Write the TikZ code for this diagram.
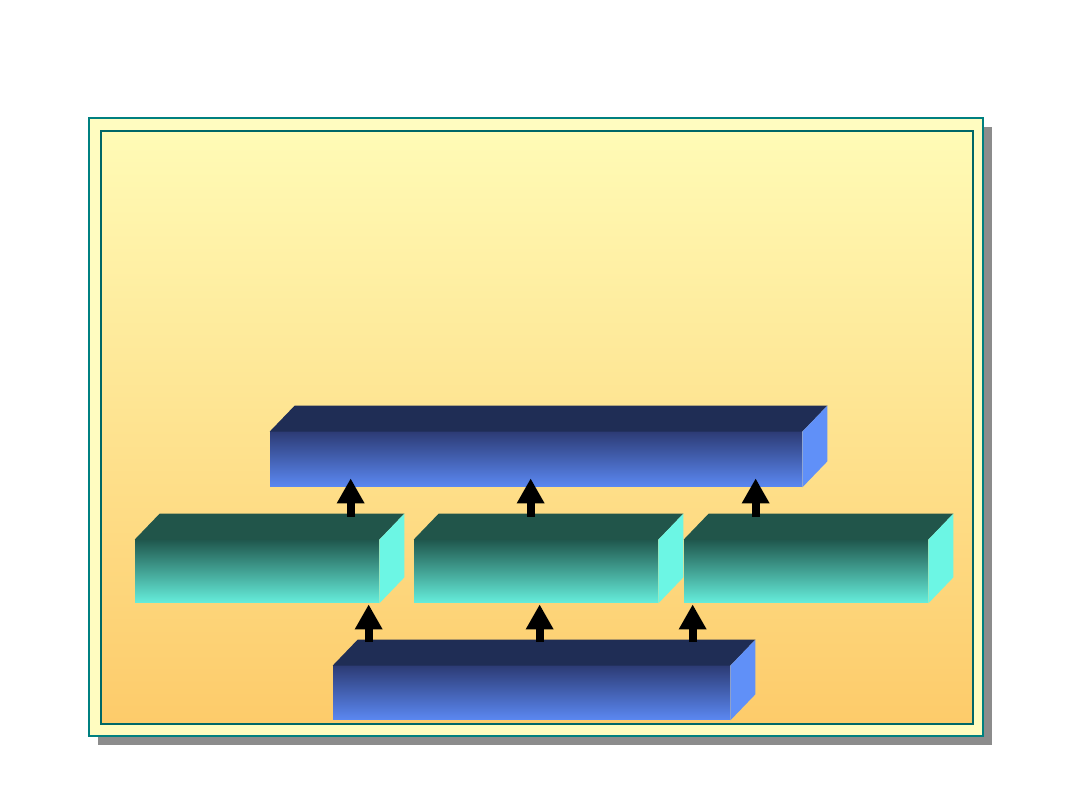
\documentclass[tikz,border=0pt]{standalone}
\usepackage{xcolor}
\usetikzlibrary{arrows.meta}
\definecolor{panelteal}{RGB}{0,128,128}
\definecolor{paleyellow}{RGB}{255,252,192}
\definecolor{warmtop}{RGB}{255,251,182}
\definecolor{warmbottom}{RGB}{253,203,106}
\definecolor{shadowgray}{RGB}{140,140,140}
\definecolor{navytop}{RGB}{31,45,85}
\definecolor{navyfront}{RGB}{45,60,118}
\definecolor{skyblue}{RGB}{91,136,242}
\definecolor{skyside}{RGB}{96,144,248}
\definecolor{pinetop}{RGB}{33,85,74}
\definecolor{pinefront}{RGB}{32,88,78}
\definecolor{aqua}{RGB}{102,238,220}
\definecolor{aquaside}{RGB}{108,246,228}
\def\px{0.02cm}
\tikzset{
  bluebox/.style={inner sep=0pt, top color=navyfront, bottom color=skyblue},
  tealbox/.style={inner sep=0pt, top color=pinefront, bottom color=aqua},
  uparrow/.style={line width=8*\px, -{Triangle[length=25*\px,width=26*\px]}}
}

\begin{document}
\begin{tikzpicture}[x=\px,y=-\px]
    \useasboundingbox[fill=white] (0,0) rectangle (1080,810);

    % Panel with shadow
    \fill[shadowgray] (98,127) rectangle (992,745);
    \filldraw[fill=paleyellow,draw=panelteal,line width=1.2pt] (89,118) rectangle (983,736);
    \shade[top color=warmtop,bottom color=warmbottom] (101,131) rectangle (973,724);
    \draw[panelteal!80!black,line width=0.6pt] (101,131) rectangle (973,724);

    % Front faces
    \node[bluebox,minimum width=532*\px,minimum height=55*\px] (top) at (536,459.5) {};
    \node[tealbox,minimum width=244*\px,minimum height=63*\px] (left) at (257,571.5) {};
    \node[tealbox,minimum width=244*\px,minimum height=63*\px] (mid) at (536,571.5) {};
    \node[tealbox,minimum width=244*\px,minimum height=63*\px] (right) at (806,571.5) {};
    \node[bluebox,minimum width=397*\px,minimum height=54*\px] (base) at (531.5,693) {};

    % Top and side faces
    \foreach \b/\tc/\sc in {top/navytop/skyside, base/navytop/skyside,
        left/pinetop/aquaside, mid/pinetop/aquaside, right/pinetop/aquaside} {
      \fill[\tc] (\b.north west) -- ++(25,-26) -- ([shift={(25,-26)}]\b.north east) -- (\b.north east) -- cycle;
      \fill[\sc] (\b.north east) -- ++(25,-26) -- ([shift={(25,-26)}]\b.south east) -- (\b.south east) -- cycle;
    }

    % Arrows into the top box
    \draw[uparrow] ([shift={(216,-23)}]left.north west) -- ([shift={(81,-9)}]top.south west);
    \draw[uparrow] ([shift={(117,-23)}]mid.north west) -- ([shift={(261,-9)}]top.south west);
    \draw[uparrow] ([shift={(72,-23)}]right.north west) -- ([shift={(486,-9)}]top.south west);

    % Arrows from the base
    \draw[uparrow] ([shift={(36,-24)}]base.north west) -- ([shift={(234,1)}]left.south west);
    \draw[uparrow] ([shift={(207,-24)}]base.north west) -- ([shift={(126,1)}]mid.south west);
    \draw[uparrow] ([shift={(360,-24)}]base.north west) -- ([shift={(9,1)}]right.south west);
\end{tikzpicture}
\end{document}
